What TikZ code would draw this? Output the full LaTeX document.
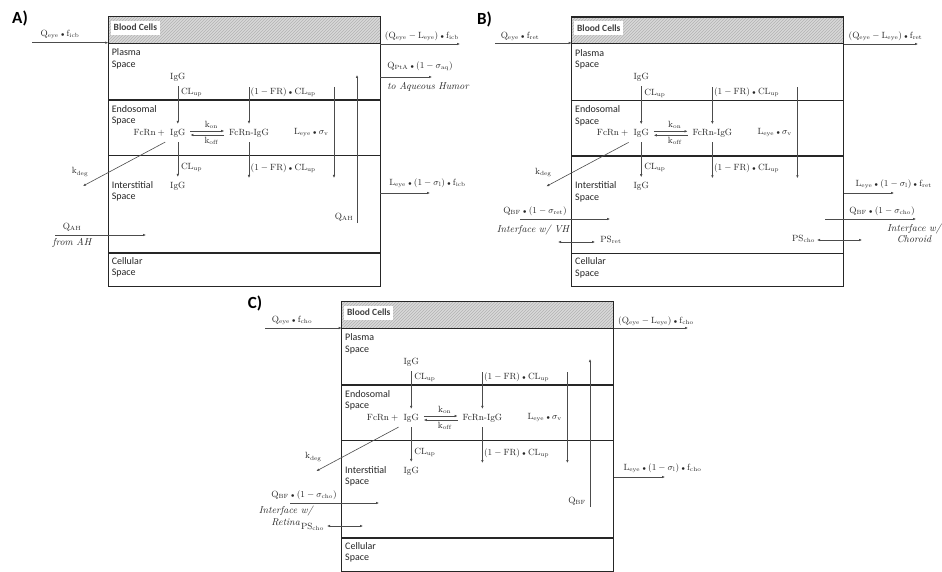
\documentclass[tikz,border=0pt]{standalone}
\usepackage{fontspec}
\newfontfamily\carlito{Carlito}
\usetikzlibrary{arrows.meta,patterns}
\newcommand\bd{\mathbin{\scriptstyle\bullet}}
\tikzset{
  boxnode/.style={draw=black!85, line width=1.2pt, minimum width=272pt, minimum height=269.5pt, anchor=north west, inner sep=0pt, outer sep=0pt},
  divline/.style={draw=black!85, line width=1.2pt},
  conn/.style={draw=black!70, line width=0.6pt, -{Latex[length=3pt,width=2.6pt]}},
  twoway/.style={draw=black!70, line width=0.6pt, {Latex[length=3pt,width=2.6pt]}-{Latex[length=3pt,width=2.6pt]}},
  lab/.style={font=\fontsize{9}{10}\selectfont, inner sep=1pt, text=black!85},
  mol/.style={lab, outer sep=4pt},
  sp/.style={font=\carlito\fontsize{10}{11.5}\selectfont, align=left, anchor=north west, inner sep=1pt, text=black!85},
  bc/.style={font=\carlito\bfseries\fontsize{9.5}{11}\selectfont, fill=white, anchor=west, inner xsep=3pt, inner ysep=3.5pt, text=black!75},
  ital/.style={font=\itshape\fontsize{10}{11.5}\selectfont, align=center, inner sep=1pt, text=black!85},
  plab/.style={font=\carlito\bfseries\fontsize{17}{19}\selectfont, inner sep=0pt},
}
\newcommand\panelcore[1]{%
  \fill[gray!30] (0,0) rectangle (272,26.6);
  \fill[pattern=north east lines, pattern color=gray!60] (0,0) rectangle (272,26.6);
  \node[boxnode] (#1box) at (0,0) {};
  \draw[divline] (0,26.6) -- (272,26.6);
  \draw[divline] (0,83.3) -- (272,83.3);
  \draw[divline] (0,139) -- (272,139);
  \draw[divline] (0,236.2) -- (272,236.2);
  \node[bc] (#1bc) at (2.2,11) {Blood Cells};
  \node[sp] (#1pl) at (2.3,31) {Plasma\\Space};
  \node[sp] (#1en) at (2.3,87.5) {Endosomal\\Space};
  \node[sp] (#1in) at (2.3,163.5) {Interstitial\\Space};
  \node[sp] (#1ce) at (2.3,239.5) {Cellular\\Space};
  \node[mol] (#1pig) at (69.5,60.3) {IgG};
  \node[mol] (#1eig) at (69.5,116.3) {IgG};
  \node[lab, anchor=east] (#1efc) at ([xshift=3pt]#1eig.west) {$\mathrm{FcRn}+{}$};
  \node[mol] (#1iig) at (69.5,169.3) {IgG};
  \draw[conn] (#1pig) -- (#1eig);
  \node[lab, anchor=west] (#1cla) at (71.5,76) {$\mathrm{CL}_{\mathrm{up}}$};
  \draw[conn] (#1eig) -- (#1iig);
  \node[lab, anchor=west] (#1clb) at (71.5,150.3) {$\mathrm{CL}_{\mathrm{up}}$};
  \node[mol] (#1fi) at (140.7,116.3) {FcRn-IgG};
  \draw[conn] ([yshift=2pt]#1eig.east) -- ([yshift=2pt]#1fi.west)
     node[lab, above=1pt, pos=0.62] (#1kon) {$\mathrm{k}_{\mathrm{on}}$};
  \draw[conn] ([yshift=-2pt]#1fi.west) -- ([yshift=-2pt]#1eig.east)
     node[lab, below=1pt, pos=0.38] (#1koff) {$\mathrm{k}_{\mathrm{off}}$};
  \coordinate (#1frt) at (140.7,70.5);
  \draw[conn] (#1frt) -- (#1fi);
  \node[lab, anchor=west] (#1fra) at (141.2,75.3) {$(1-\mathrm{FR})\bd\mathrm{CL}_{\mathrm{up}}$};
  \coordinate (#1frb) at (140.7,161.3);
  \draw[conn] (#1fi) -- (#1frb);
  \node[lab, anchor=west] (#1frc) at (141.2,151.3) {$(1-\mathrm{FR})\bd\mathrm{CL}_{\mathrm{up}}$};
  \coordinate (#1lvt) at (225.7,70.3);
  \coordinate (#1lvb) at (225.7,161.3);
  \draw[conn] (#1lvt) -- (#1lvb);
  \node[lab] (#1lv) at (203,115.6) {$\mathrm{L}_{\mathrm{eye}}\bd\sigma_{\mathrm{v}}$};
  \coordinate (#1kd) at (-25.3,169.3);
  \draw[conn] (#1eig.south west) -- (#1kd);
  \node[lab] (#1kdl) at (-28.3,155.3) {$\mathrm{k}_{\mathrm{deg}}$};
}
\begin{document}
\begin{tikzpicture}[x=1pt,y=-1pt]
\fill[white] (0,0) rectangle (942,572);
\useasboundingbox (0,0) rectangle (942,572);
\node[plab] (pA) at (20,18.5) {A)};
\node[plab] (pB) at (484.5,19) {B)};
\node[plab] (pC) at (255,303.5) {C)};
% ---------------- Panel A
\begin{scope}[shift={(108.3,16.7)}]
\panelcore{A}
\coordinate (Al1) at (-76.3,26);
\draw[conn] (Al1) -- (Al1 -| Abox.west);
\node[lab] (Al1t) at (-48.3,17.3) {$\mathrm{Q}_{\mathrm{eye}}\bd\mathrm{f}_{\mathrm{icb}}$};
\coordinate (Al2) at (-53.3,218.3);
\coordinate (Al2e) at (37.7,218.3);
\draw[conn] (Al2) -- (Al2e);
\node[lab] (Al2t) at (-36.3,210.3) {$\mathrm{Q}_{\mathrm{AH}}$};
\node[ital] (Al2i) at (-36.3,226.3) {from AH};
\coordinate (Ar1) at (351.7,27.3);
\draw[conn] (Ar1 -| Abox.east) -- (Ar1);
\node[lab] (Ar1t) at (313.7,19.3) {$(\mathrm{Q}_{\mathrm{eye}}-\mathrm{L}_{\mathrm{eye}})\bd\mathrm{f}_{\mathrm{icb}}$};
\coordinate (Ar2) at (323.7,60.3);
\draw[conn] (Ar2 -| Abox.east) -- (Ar2);
\node[lab] (Ar2t) at (311.7,49.3) {$\mathrm{Q}_{\mathrm{PtA}}\bd(1-\sigma_{\mathrm{aq}})$};
\node[ital] (Ar2i) at (319.7,70.6) {to Aqueous Humor};
\coordinate (Ar3) at (321.7,176.3);
\draw[conn] (Ar3 -| Abox.east) -- (Ar3);
\node[lab] (Ar3t) at (319.2,166.3) {$\mathrm{L}_{\mathrm{eye}}\bd(1-\sigma_{\mathrm{l}})\bd\mathrm{f}_{\mathrm{icb}}$};
\coordinate (Aqb) at (248.7,206.3);
\coordinate (Aqt) at (248.7,58.3);
\draw[conn] (Aqb) -- (Aqt);
\node[lab] (Aqtl) at (235.7,200.3) {$\mathrm{Q}_{\mathrm{AH}}$};
\end{scope}
% ---------------- Panel B
\begin{scope}[shift={(571.7,17)}]
\panelcore{B}
\coordinate (Bl1) at (-76.7,26);
\draw[conn] (Bl1) -- (Bl1 -| Bbox.west);
\node[lab] (Bl1t) at (-51.7,19) {$\mathrm{Q}_{\mathrm{eye}}\bd\mathrm{f}_{\mathrm{ret}}$};
\coordinate (Br1) at (346.3,27);
\draw[conn] (Br1 -| Bbox.east) -- (Br1);
\node[lab] (Br1t) at (313.8,19.5) {$(\mathrm{Q}_{\mathrm{eye}}-\mathrm{L}_{\mathrm{eye}})\bd\mathrm{f}_{\mathrm{ret}}$};
\coordinate (Br3) at (322.3,176);
\draw[conn] (Br3 -| Bbox.east) -- (Br3);
\node[lab] (Br3t) at (322,167.5) {$\mathrm{L}_{\mathrm{eye}}\bd(1-\sigma_{\mathrm{l}})\bd\mathrm{f}_{\mathrm{ret}}$};
\coordinate (Br4s) at (253.3,202);
\coordinate (Br4) at (344.3,202);
\draw[conn] (Br4s) -- (Br4);
\node[lab] (Br4t) at (310.3,194.5) {$\mathrm{Q}_{\mathrm{BF}}\bd(1-\sigma_{\mathrm{cho}})$};
\node[ital] (Br4i) at (342.3,216.5) {Interface w/\\Choroid};
\coordinate (Bps1) at (245.3,223);
\coordinate (Bps2) at (290.3,223);
\draw[twoway] (Bps1) -- (Bps2);
\node[lab, anchor=east] (Bpst) at (244.5,222) {$\mathrm{PS}_{\mathrm{cho}}$};
\coordinate (Bl4) at (-51.7,202);
\coordinate (Bl4e) at (38.3,202);
\draw[conn] (Bl4) -- (Bl4e);
\node[lab] (Bl4t) at (-36.7,194) {$\mathrm{Q}_{\mathrm{BF}}\bd(1-\sigma_{\mathrm{ret}})$};
\node[ital] (Bl4i) at (-38.7,213) {Interface w/ VH};
\coordinate (Bpr1) at (-13.7,225);
\coordinate (Bpr2) at (23.3,225);
\draw[twoway] (Bpr1) -- (Bpr2);
\node[lab, anchor=west] (Bprt) at (27.5,223) {$\mathrm{PS}_{\mathrm{ret}}$};
\end{scope}
% ---------------- Panel C
\begin{scope}[shift={(341.7,301.7)}]
\panelcore{C}
\coordinate (Cl1) at (-76.7,26.3);
\draw[conn] (Cl1) -- (Cl1 -| Cbox.west);
\node[lab] (Cl1t) at (-49.7,18.3) {$\mathrm{Q}_{\mathrm{eye}}\bd\mathrm{f}_{\mathrm{cho}}$};
\coordinate (Cr1) at (346.3,26.3);
\draw[conn] (Cr1 -| Cbox.east) -- (Cr1);
\node[lab] (Cr1t) at (314.3,19.3) {$(\mathrm{Q}_{\mathrm{eye}}-\mathrm{L}_{\mathrm{eye}})\bd\mathrm{f}_{\mathrm{cho}}$};
\coordinate (Cr3) at (323.3,175.3);
\draw[conn] (Cr3 -| Cbox.east) -- (Cr3);
\node[lab] (Cr3t) at (320.8,166.3) {$\mathrm{L}_{\mathrm{eye}}\bd(1-\sigma_{\mathrm{l}})\bd\mathrm{f}_{\mathrm{cho}}$};
\coordinate (Cqb) at (248.3,205.3);
\coordinate (Cqt) at (248.3,57.3);
\draw[conn] (Cqb) -- (Cqt);
\node[lab] (Cqtl) at (235.3,199.3) {$\mathrm{Q}_{\mathrm{BF}}$};
\coordinate (Cl4) at (-51.7,201.3);
\coordinate (Cl4e) at (37.3,201.3);
\draw[conn] (Cl4) -- (Cl4e);
\node[lab] (Cl4t) at (-37.7,193.3) {$\mathrm{Q}_{\mathrm{BF}}\bd(1-\sigma_{\mathrm{cho}})$};
\node[ital] (Cl4i) at (-56,214) {Interface w/\\Retina};
\node[lab] (Cpst) at (-29.2,224.8) {$\mathrm{PS}_{\mathrm{cho}}$};
\coordinate (Cps1) at (-14.7,224.3);
\coordinate (Cps2) at (21.3,224.3);
\draw[twoway] (Cps1) -- (Cps2);
\end{scope}
\end{tikzpicture}
\end{document}
